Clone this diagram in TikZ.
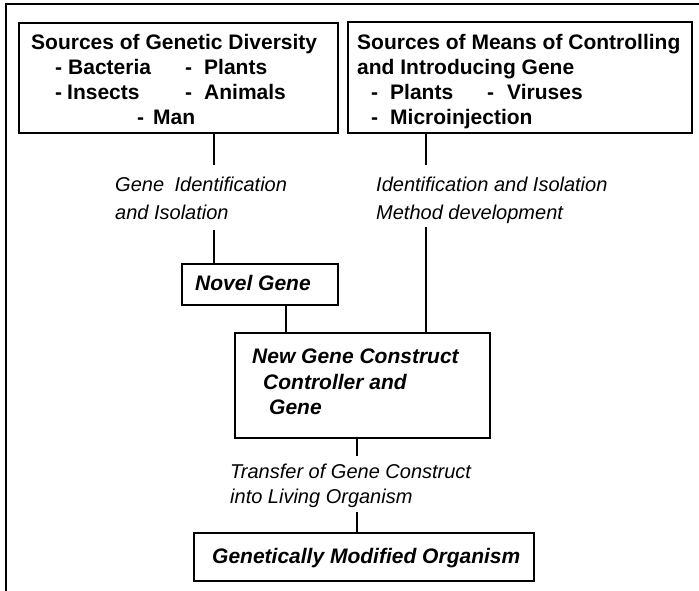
\documentclass[tikz,border=0pt]{standalone}
\usepackage{fontspec}
\setmainfont{Liberation Sans}
\begin{document}
\begin{tikzpicture}[x=1pt,y=-1pt,
  box/.style={draw, line width=1.6pt, anchor=north west, inner sep=0pt},
  bt/.style={anchor=base west, inner sep=0pt, font=\fontsize{21}{24}\selectfont\bfseries},
  itl/.style={anchor=base west, inner sep=0pt, font=\fontsize{20}{24}\selectfont\itshape},
  bit/.style={anchor=base west, inner sep=0pt, font=\fontsize{21}{24}\selectfont\bfseries\itshape},
  conn/.style={line width=1.3pt},
  frame/.style={line width=1.6pt}]
\useasboundingbox (0,0) rectangle (699,591);
% frame
\draw[frame] (699,4) -- (6,4) -- (6,591);
% boxes
\node[box, minimum width=319pt, minimum height=110pt] (b1) at (18,22) {};
\node[box, minimum width=344pt, minimum height=111pt] (b2) at (347,21) {};
\node[box, minimum width=156pt, minimum height=41pt] (ng) at (181,263) {};
\node[box, minimum width=255pt, minimum height=105pt] (nc) at (234,332) {};
\node[box, minimum width=340pt, minimum height=48pt] (gmo) at (193,532) {};
% box 1 text
\node[bt] (t11) at (31,49.5) {Sources of Genetic Diversity};
\node[bt] (t12a) at (55,74.5) {-\hspace{6pt}Bacteria};
\node[bt] (t12b) at (185,74.5) {-\hspace{12pt}Plants};
\node[bt] (t13a) at (55,99.5) {-\hspace{5pt}Insects};
\node[bt] (t13b) at (185,99.5) {-\hspace{12pt}Animals};
\node[bt] (t14) at (137,124.5) {-\hspace{9pt}Man};
% box 2 text
\node[bt] (t21) at (357,49.5) {Sources of Means of Controlling};
\node[bt] (t22) at (357,74.5) {and Introducing Gene};
\node[bt] (t23a) at (371,99.5) {-\hspace{12pt}Plants};
\node[bt] (t23b) at (487,99.5) {-\hspace{13pt}Viruses};
\node[bt] (t24) at (371,124.5) {-\hspace{12pt}Microinjection};
% inner boxes text
\node[bit] (tng) at (195,290.5) {Novel Gene};
\node[bit] (tnc1) at (252,363.5) {New Gene Construct};
\node[bit] (tnc2) at (263,389.5) {Controller and};
\node[bit] (tnc3) at (269,414.5) {Gene};
\node[bit] (tgmo) at (212,563.5) {Genetically Modified Organism};
% labels
\node[itl] (l1a) at (115,192) {Gene\hspace{5pt} Identification};
\node[itl] (l1b) at (115,219) {and Isolation};
\node[itl] (l2a) at (376,192) {Identification and Isolation};
\node[itl] (l2b) at (376,219) {Method development};
\node[itl] (l3a) at (230,478) {Transfer of Gene Construct};
\node[itl] (l3b) at (230,503) {into Living Organism};
% connectors
\coordinate (c1a) at (214,165); \coordinate (c1b) at (214,230);
\coordinate (c2a) at (426,165); \coordinate (c2b) at (426,227);
\coordinate (c3) at (286,300);
\coordinate (c4a) at (357,456); \coordinate (c4b) at (357,512);
\draw[conn] (b1.south -| c1a) -- (c1a);
\draw[conn] (c1b) -- (ng.north -| c1b);
\draw[conn] (b2.south -| c2a) -- (c2a);
\draw[conn] (c2b) -- (nc.north -| c2b);
\draw[conn] (ng.south -| c3) -- (nc.north -| c3);
\draw[conn] (nc.south -| c4a) -- (c4a);
\draw[conn] (c4b) -- (gmo.north -| c4b);
\end{tikzpicture}
\end{document}
